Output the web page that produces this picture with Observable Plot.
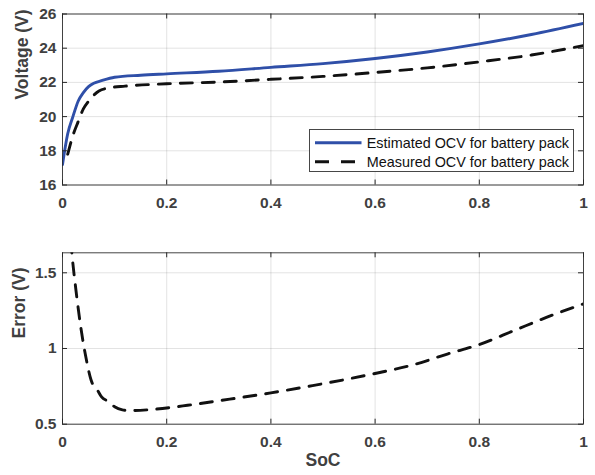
<!DOCTYPE html>
<html>
<head>
<meta charset="utf-8">
<script src="https://cdn.jsdelivr.net/npm/d3@7"></script>
<script src="https://cdn.jsdelivr.net/npm/@observablehq/plot@0.6"></script>
<style>
  html, body { margin: 0; padding: 0; background: #fff; }
  #chart { width: 595px; height: 475px; }
  #chart svg { display: block; }
</style>
</head>
<body>
<div id="chart"></div>
<script>
// ---- Data ----
const estSoc = [0, 0.01, 0.02, 0.03, 0.04, 0.05, 0.06, 0.075, 0.1, 0.15, 0.2, 0.3, 0.4, 0.5, 0.6, 0.7, 0.8, 0.9, 1.0];
const estOcv = [17.2, 19.0, 20.0, 20.9, 21.4, 21.75, 21.95, 22.1, 22.3, 22.42, 22.5, 22.65, 22.88, 23.1, 23.4, 23.78, 24.25, 24.8, 25.45];

const measSoc = [0.01, 0.02, 0.03, 0.04, 0.05, 0.06, 0.07, 0.09, 0.12, 0.2, 0.3, 0.4, 0.5, 0.6, 0.7, 0.8, 0.9, 1.0];
const measOcv = [17.8, 18.9, 19.7, 20.45, 20.9, 21.25, 21.5, 21.68, 21.78, 21.92, 22.02, 22.18, 22.35, 22.58, 22.85, 23.2, 23.6, 24.15];

const errSoc = [0.01, 0.018, 0.026, 0.036, 0.045, 0.055, 0.068, 0.075, 0.088, 0.1, 0.115, 0.13, 0.17, 0.24, 0.3, 0.4, 0.48, 0.55, 0.6, 0.675, 0.74, 0.8, 0.867, 0.93, 1.0];
const errVal = [2.0, 1.63, 1.38, 1.12, 0.94, 0.79, 0.72, 0.68, 0.65, 0.615, 0.595, 0.59, 0.597, 0.625, 0.655, 0.707, 0.755, 0.80, 0.835, 0.894, 0.965, 1.026, 1.119, 1.207, 1.295];

const xTicks = [0, 0.2, 0.4, 0.6, 0.8, 1];
const vTicks = [16, 18, 20, 22, 24, 26];
const eTicks = [0.5, 1, 1.5];

const seriesNames = ["Estimated OCV for battery pack", "Measured OCV for battery pack"];

// ---- Styles ----
const AX = "#262626";
const LBL = "#404040";
const BLUE = "#2f4fa8";
const LW = 2.9;
const DASH = "12,10";
const TICKFS = 15.5;
const LABELFS = 17.5;
const fmt = d => String(d);

const est = estSoc.map((s, i) => ({soc: s, v: estOcv[i]}));
const meas = measSoc.map((s, i) => ({soc: s, v: measOcv[i]}));
const err = errSoc.map((s, i) => ({soc: s, e: errVal[i]}));

function boxTicks(xt, yt, xd, yd) {
  const tick = {stroke: AX, strokeWidth: 1};
  return [
    Plot.ruleX(xt, {x: d => d, y1: yd[0], y2: yd[0], insetBottom: 5, ...tick}),
    Plot.ruleX(xt, {x: d => d, y1: yd[1], y2: yd[1], insetBottom: -5, ...tick}),
    Plot.ruleY(yt, {y: d => d, x1: xd[0], x2: xd[0], insetRight: -5, ...tick}),
    Plot.ruleY(yt, {y: d => d, x1: xd[1], x2: xd[1], insetLeft: -5, ...tick})
  ];
}

const common = {
  width: 595,
  marginLeft: 62,
  marginRight: 12,
  style: {fontFamily: "'Liberation Sans', Arial, Helvetica, sans-serif", fontSize: TICKFS + "px", color: AX, background: "#fff"}
};

const vDomain = [16, 26];
const xDomain = [0, 1];

const topChart = Plot.plot({
  ...common,
  height: 230,
  marginTop: 13.5,
  marginBottom: 45.5,
  x: {domain: xDomain},
  y: {domain: vDomain},
  marks: [
    Plot.gridX(xTicks, {stroke: AX, strokeOpacity: 0.13, strokeWidth: 1}),
    Plot.gridY(vTicks, {stroke: AX, strokeOpacity: 0.13, strokeWidth: 1}),
    Plot.axisX(xTicks, {tickSize: 0, tickPadding: 12, tickFormat: fmt, fontWeight: "bold", fontSize: TICKFS, fill: LBL, label: null}),
    Plot.axisY(vTicks, {tickSize: 0, tickPadding: 6, tickFormat: fmt, fontWeight: "bold", fontSize: TICKFS, fill: LBL, label: null}),
    Plot.line(meas, {x: "soc", y: "v", stroke: "#111", strokeWidth: LW, strokeDasharray: DASH, curve: "monotone-x", clip: true}),
    Plot.line(est, {x: "soc", y: "v", stroke: BLUE, strokeWidth: LW, curve: "monotone-x", clip: true}),
    Plot.frame({stroke: AX, strokeWidth: 1, strokeOpacity: 0.85}),
    ...boxTicks(xTicks, vTicks, xDomain, vDomain),
    Plot.text(["Voltage (V)"], {text: d => d, frameAnchor: "left", dx: -40, rotate: -90, fontWeight: "bold", fontSize: LABELFS, fill: LBL})
  ]
});

const eDomain = [0.5, 1.632];
const bottomChart = Plot.plot({
  ...common,
  height: 245,
  marginTop: 22.3,
  marginBottom: 51.3,
  x: {domain: xDomain},
  y: {domain: eDomain},
  marks: [
    Plot.gridX(xTicks, {stroke: AX, strokeOpacity: 0.13, strokeWidth: 1}),
    Plot.gridY(eTicks, {stroke: AX, strokeOpacity: 0.13, strokeWidth: 1}),
    Plot.axisX(xTicks, {tickSize: 0, tickPadding: 12, tickFormat: fmt, fontWeight: "bold", fontSize: TICKFS, fill: LBL, label: null}),
    Plot.axisY(eTicks, {tickSize: 0, tickPadding: 6, tickFormat: fmt, fontWeight: "bold", fontSize: TICKFS, fill: LBL, label: null}),
    Plot.line(err, {x: "soc", y: "e", stroke: "#111", strokeWidth: LW, strokeDasharray: DASH, curve: "monotone-x", clip: true}),
    Plot.frame({stroke: AX, strokeWidth: 1, strokeOpacity: 0.85}),
    ...boxTicks(xTicks, eTicks, xDomain, eDomain),
    Plot.text(["Error (V)"], {text: d => d, frameAnchor: "left", dx: -43.5, rotate: -90, fontWeight: "bold", fontSize: LABELFS, fill: LBL}),
    Plot.text(["SoC"], {text: d => d, frameAnchor: "bottom", dy: 41.5, fontWeight: "bold", fontSize: LABELFS, fill: LBL})
  ]
});

// ---- Legend (MATLAB style box in top axes) ----
{
  const svg = d3.select(topChart);
  const g = svg.append("g")
    .attr("font-family", "'Liberation Sans', Arial, Helvetica, sans-serif")
    .attr("font-size", 14.4)
    .attr("font-weight", "normal")
    .attr("text-anchor", "start");
  const lx = 309.5, ly = 129.5, lw = 264, lh = 42;
  g.append("rect").attr("x", lx).attr("y", ly).attr("width", lw).attr("height", lh)
    .attr("fill", "#fff").attr("stroke", AX).attr("stroke-opacity", 0.85).attr("stroke-width", 1);
  const rows = [
    {name: seriesNames[0], stroke: BLUE, dash: null, y: 142.7},
    {name: seriesNames[1], stroke: "#111", dash: "14,12", y: 161.7}
  ];
  for (const r of rows) {
    const ln = g.append("line").attr("x1", 315).attr("x2", 361.5).attr("y1", r.y).attr("y2", r.y)
      .attr("stroke", r.stroke).attr("stroke-width", LW);
    if (r.dash) ln.attr("stroke-dasharray", r.dash);
    g.append("text").attr("x", 366.7).attr("y", r.y).attr("dy", "0.35em")
      .attr("text-anchor", "start").attr("fill", "#111").text(r.name);
  }
}

const chart = document.getElementById("chart");
chart.appendChild(topChart);
chart.appendChild(bottomChart);
</script>
</body>
</html>
